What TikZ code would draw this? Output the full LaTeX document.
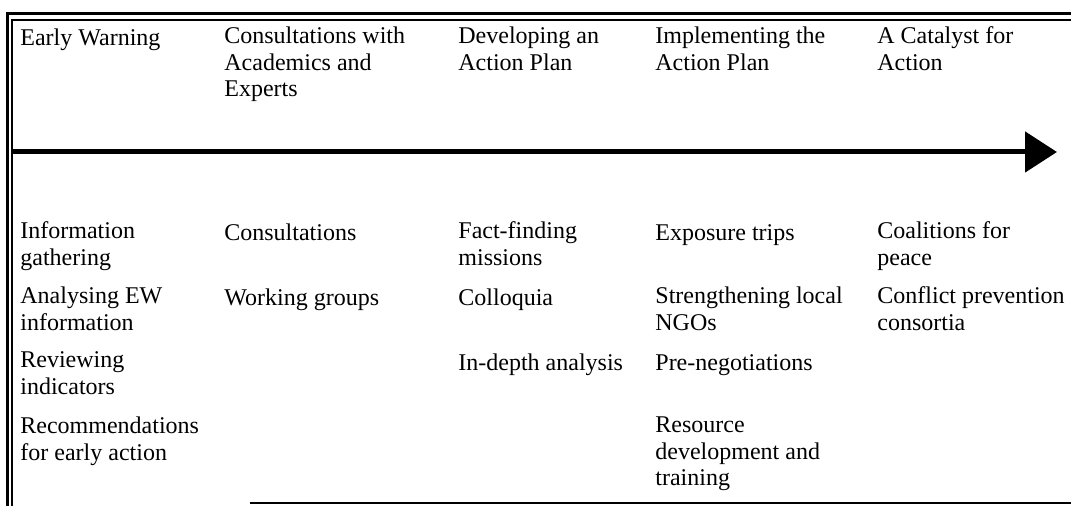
\documentclass[tikz,border=0pt]{standalone}
\usepackage{fontspec}
\setmainfont{Liberation Serif}
\usetikzlibrary{arrows.meta,positioning}
\tikzset{
  tl diagram/.style={x=0.5pt, y=-0.5pt, font=\fontsize{12}{13.25}\selectfont},
  tl text/.style={anchor=north west, align=left, inner sep=0pt,
    execute at begin node=\strut},
  tl outer/.style={draw=black, line width=1.5pt},
  tl inner/.style={draw=black, line width=0.75pt},
  tl arrow/.style={-{Triangle[length=16pt,width=20pt]}, draw=black, line width=2.5pt}
}

\begin{document}
\begin{tikzpicture}[tl diagram]
\useasboundingbox (0,0) rectangle (1071,506);
% frame: double rule on top and left, single rule at the foot
\draw[tl outer] (1071,14) -- (7,14) -- (7,506);
\draw[tl inner] (1071,20) -- (12,20) -- (12,506);
\draw[tl inner] (250,503) -- (1071,503);
% phases
\node[tl text] (hEW) at (20,26.5) {Early Warning};
\node[tl text] (hCons) at (224,26.5) {Consultations with\\Academics and\\Experts};
\node[tl text] (hPlan) at (458,26.5) {Developing an\\Action Plan};
\node[tl text] (hImpl) at (655,26.5) {Implementing the\\Action Plan};
\node[tl text] (hCat) at (877,26.5) {A Catalyst for\\Action};
% timeline
\coordinate (tStart) at (12,152);
\coordinate (tEnd) at (1057,152);
\draw[tl arrow] (tStart) -- (tEnd);
% activities
\node[tl text] (ew1) at (20,221.5) {Information\\gathering};
\node[tl text] (ew2) at (20,286.5) {Analysing EW\\information};
\node[tl text] (ew3) at (20,351.5) {Reviewing\\indicators};
\node[tl text] (ew4) at (20,416.5) {Recommendations\\for early action};
\node[tl text] (co1) at (224,221.5) {Consultations};
\node[tl text] (co2) at (224,286.5) {Working groups};
\node[tl text] (pl1) at (458,221.5) {Fact-finding\\missions};
\node[tl text] (pl2) at (458,286.5) {Colloquia};
\node[tl text] (pl3) at (458,351.5) {In-depth analysis};
\node[tl text] (im1) at (655,221.5) {Exposure trips};
\node[tl text] (im2) at (655,286.5) {Strengthening local\\NGOs};
\node[tl text] (im3) at (655,351.5) {Pre-negotiations};
\node[tl text] (im4) at (655,416.5) {Resource\\development and\\training};
\node[tl text] (ca1) at (877,221.5) {Coalitions for\\peace};
\node[tl text] (ca2) at (877,286.5) {Conflict prevention\\consortia};
\end{tikzpicture}
\end{document}
